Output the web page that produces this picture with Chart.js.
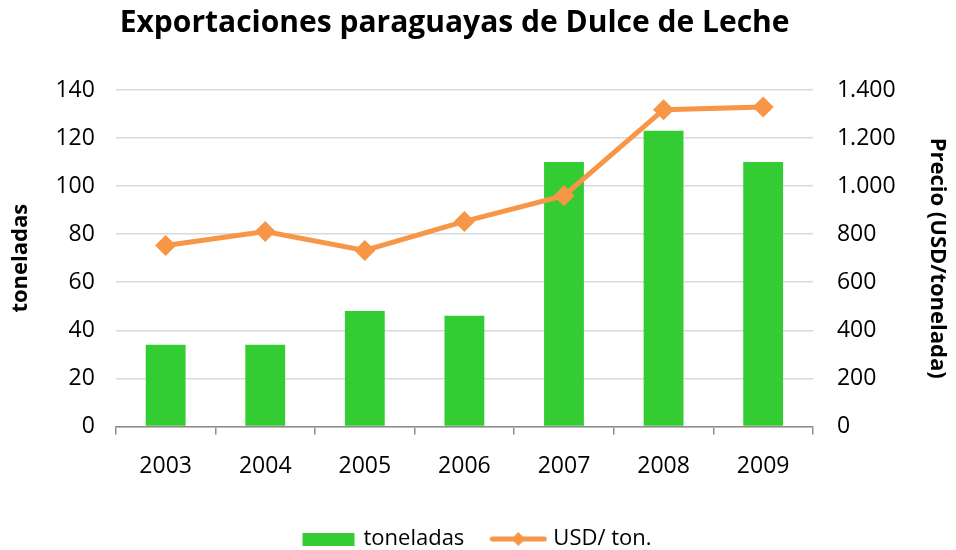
<!DOCTYPE html>
<html>
<head>
<meta charset="utf-8">
<script src="https://cdn.jsdelivr.net/npm/chart.js@4"></script>
<style>
    body { margin: 0; background: #fff; }
    #wrap { width: 956px; height: 550px; }
</style>
</head>
<body>
<div id="wrap"><canvas id="exportChart"></canvas></div>
<script>
const years = ['2003', '2004', '2005', '2006', '2007', '2008', '2009'];
const toneladas = [34, 34, 48, 46, 110, 123, 110];
const usdPorTon = [753, 811, 732, 853, 960, 1318, 1329];
const leftTicks = [0, 20, 40, 60, 80, 100, 120, 140];
const rightTicks = [0, 200, 400, 600, 800, 1000, 1200, 1400];

const GREEN = '#33cc33';
const ORANGE = '#f79646';
const FONT = "'Open Sans', sans-serif";

function legendSwatch(kind) {
    const c = document.createElement('canvas');
    c.width = 58;
    c.height = 16;
    const ctx = c.getContext('2d');
    if (kind === 'bar') {
        ctx.fillStyle = GREEN;
        ctx.fillRect(3, 2, 52, 13);
    } else {
        ctx.strokeStyle = ORANGE;
        ctx.lineWidth = 5;
        ctx.lineCap = 'round';
        ctx.beginPath();
        ctx.moveTo(3, 8);
        ctx.lineTo(55, 8);
        ctx.stroke();
        ctx.fillStyle = ORANGE;
        ctx.beginPath();
        ctx.moveTo(29, 1);
        ctx.lineTo(36, 8);
        ctx.lineTo(29, 15);
        ctx.lineTo(22, 8);
        ctx.closePath();
        ctx.fill();
    }
    return c;
}

const swatches = [legendSwatch('bar'), legendSwatch('line')];

new Chart(document.getElementById('exportChart'), {
    data: {
        labels: years,
        datasets: [
            {
                type: 'line',
                label: 'USD/ ton.',
                data: usdPorTon,
                yAxisID: 'y2',
                borderColor: ORANGE,
                backgroundColor: ORANGE,
                borderWidth: 5,
                pointStyle: 'rectRot',
                pointRadius: 7,
                pointHoverRadius: 7,
                tension: 0,
                order: 0
            },
            {
                type: 'bar',
                label: 'toneladas',
                data: toneladas,
                yAxisID: 'y',
                backgroundColor: GREEN,
                categoryPercentage: 1,
                barPercentage: 0.4,
                order: 1
            }
        ]
    },
    options: {
        responsive: true,
        maintainAspectRatio: false,
        animation: false,
        layout: { padding: { left: 4, right: 4, top: 2, bottom: -10 } },
        plugins: {
            title: {
                display: true,
                // trailing spaces nudge the centred title left, like the original
                text: 'Exportaciones paraguayas de Dulce de Leche      ',
                color: '#000',
                font: { family: FONT, size: 30, weight: 'bold' },
                padding: { top: 3, bottom: 49 }
            },
            legend: {
                position: 'bottom',
                reverse: true,
                labels: {
                    usePointStyle: true,
                    pointStyleWidth: 48,
                    color: '#000',
                    padding: 30,
                    font: { family: FONT, size: 22 },
                    generateLabels: chart => chart.data.datasets.map((ds, i) => ({
                        text: ds.label,
                        pointStyle: swatches[ds.type === 'bar' ? 0 : 1],
                        datasetIndex: i,
                        fillStyle: ds.backgroundColor,
                        strokeStyle: ds.borderColor,
                        lineWidth: 0,
                        hidden: false,
                        fontColor: '#000'
                    }))
                }
            },
            tooltip: { enabled: false }
        },
        scales: {
            x: {
                offset: true,
                grid: {
                    offset: true,
                    drawOnChartArea: false,
                    drawTicks: true,
                    tickLength: 8,
                    color: '#8c8c8c',
                    lineWidth: 1.5
                },
                border: { display: true, color: '#8c8c8c', width: 1.5 },
                ticks: {
                    color: '#000',
                    font: { family: FONT, size: 23 },
                    padding: 18
                }
            },
            y: {
                position: 'left',
                min: 0,
                max: 140,
                afterBuildTicks: axis => { axis.ticks = leftTicks.map(v => ({ value: v })); },
                grid: { color: '#d9d9d9', lineWidth: 1.5, drawTicks: false },
                border: { display: false },
                ticks: {
                    color: '#000',
                    font: { family: FONT, size: 23 },
                    padding: 21
                },
                title: {
                    display: true,
                    text: 'toneladas',
                    color: '#000',
                    font: { family: FONT, size: 22, weight: 'bold' },
                    padding: { bottom: 0 }
                }
            },
            y2: {
                position: 'right',
                min: 0,
                max: 1400,
                afterBuildTicks: axis => { axis.ticks = rightTicks.map(v => ({ value: v })); },
                grid: { drawOnChartArea: false, drawTicks: false },
                border: { display: false },
                ticks: {
                    color: '#000',
                    font: { family: FONT, size: 23 },
                    padding: 24,
                    callback: v => v.toLocaleString('de-DE')
                },
                title: {
                    display: true,
                    text: 'Precio (USD/tonelada)',
                    color: '#000',
                    font: { family: FONT, size: 22, weight: 'bold' },
                    padding: { top: 2 }
                }
            }
        }
    }
});
</script>
</body>
</html>
